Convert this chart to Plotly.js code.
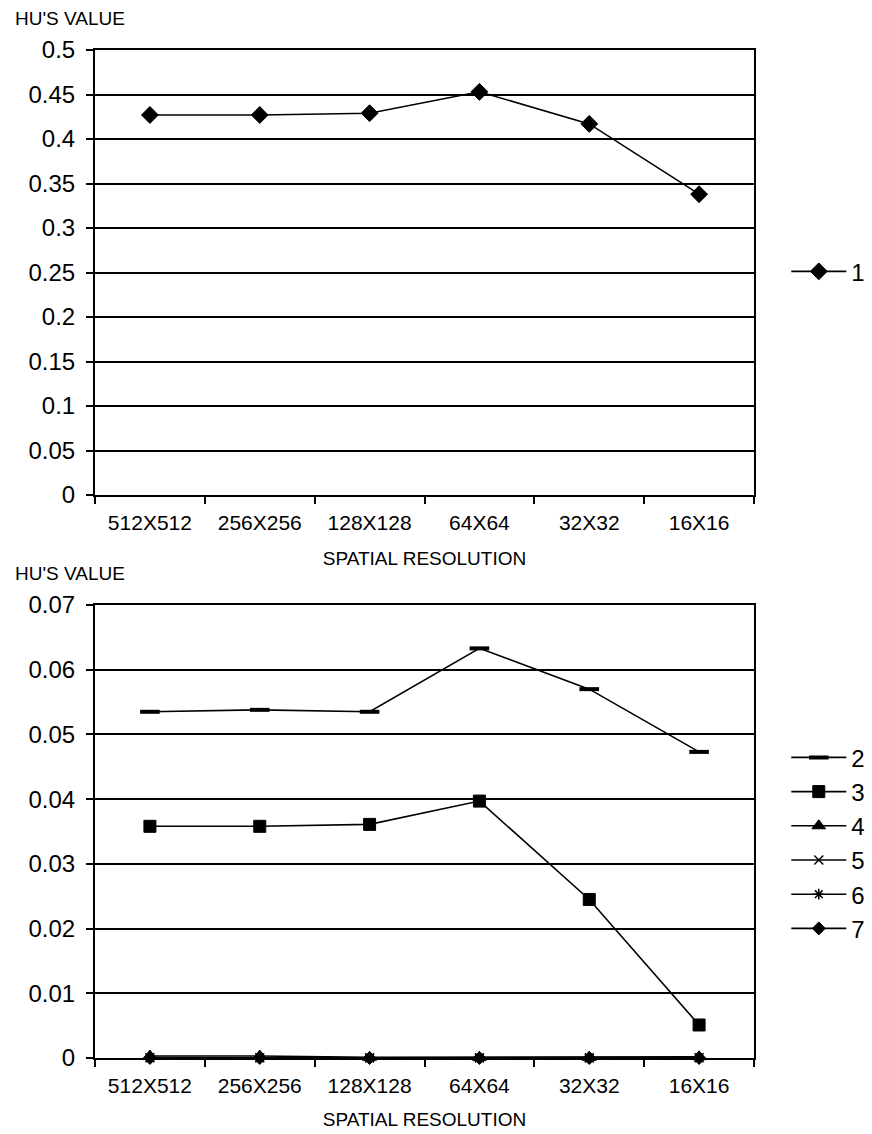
<!DOCTYPE html>
<html>
<head>
<meta charset="utf-8">
<script src="https://cdn.plot.ly/plotly-3.0.1.min.js"></script>
<style>html,body{margin:0;padding:0;background:#fff;}#chart{width:872px;height:1134px;}</style>
</head>
<body>
<div id="chart"></div>
<script>
const categories = ["512X512", "256X256", "128X128", "64X64", "32X32", "16X16"];
const series1 = [0.427, 0.427, 0.429, 0.453, 0.417, 0.338];
const series2 = [0.0535, 0.0538, 0.0535, 0.0633, 0.0570, 0.0473];
const series3 = [0.0358, 0.0358, 0.0361, 0.0397, 0.0245, 0.0051];
const series4 = [0.0003, 0.0003, 0.0001, 0.0001, 0.0001, 0.0002];
const series5 = [0.00005, 0.00005, 0.00002, 0.00002, 0.00002, 0.00003];
const series6 = [0.00002, 0.00002, 0.00001, 0.00001, 0.00001, 0.00001];
const series7 = [0.00001, 0.00001, 0.0, 0.0, 0.0, 0.0];
const yTicksTop = [0, 0.05, 0.1, 0.15, 0.2, 0.25, 0.3, 0.35, 0.4, 0.45, 0.5];
const yTicksBottom = [0, 0.01, 0.02, 0.03, 0.04, 0.05, 0.06, 0.07];

const FONT = "Liberation Sans, Arial, sans-serif";
const lineStyle = {color: "#000", width: 1.6};

function tr(name, y, symbol, size, xa, ya, legend, rank, lw) {
  return {
    type: "scatter", mode: "lines+markers", name: name,
    x: categories, y: y, xaxis: xa, yaxis: ya, legend: legend, legendrank: rank,
    line: lineStyle, cliponaxis: false,
    marker: {symbol: symbol, size: size, color: "#000", line: {color: "#000", width: lw || 1}}
  };
}

const data = [
  tr("1", series1, "diamond", 13, "x", "y", "legend", 1),
  tr("7", series7, "diamond", 10, "x2", "y2", "legend2", 7),
  tr("6", series6, "asterisk-open", 9, "x2", "y2", "legend2", 6, 1.5),
  tr("5", series5, "x-thin-open", 9, "x2", "y2", "legend2", 5, 1.5),
  tr("2", series2, "line-ew-open", 14, "x2", "y2", "legend2", 2, 4),
  tr("3", series3, "square", 12, "x2", "y2", "legend2", 3),
  tr("4", series4, "triangle-up", 12, "x2", "y2", "legend2", 4)
];

const titleFont = {family: FONT, size: 19, color: "#000"};
const xBase = {
  type: "category", showline: true, linecolor: "#000", linewidth: 2, mirror: true,
  ticks: "outside", tickson: "boundaries", ticklen: 7, tickwidth: 2, tickcolor: "#000",
  showgrid: false, tickfont: {family: FONT, size: 21, color: "#000"}, ticklabelstandoff: 8,
  range: [-0.5, 5.5], fixedrange: true
};
const yBase = {
  showline: true, linecolor: "#000", linewidth: 2, mirror: true,
  ticks: "outside", ticklen: 7, tickwidth: 2, tickcolor: "#000",
  showgrid: true, gridcolor: "#000", gridwidth: 2, zeroline: false,
  tickfont: {family: FONT, size: 24, color: "#000"}, ticklabelstandoff: 6
};

const legendBase = {xanchor: "left", yanchor: "middle", bgcolor: "rgba(0,0,0,0)",
  font: {family: FONT, size: 24, color: "#000"}, traceorder: "normal", itemwidth: 55};

const layout = {
  width: 872, height: 1134,
  margin: {l: 95, r: 118, t: 50, b: 76, autoexpand: false},
  paper_bgcolor: "#fff", plot_bgcolor: "#fff",
  font: {family: FONT, color: "#000"},
  xaxis: Object.assign({}, xBase, {anchor: "y", domain: [0, 1],
    title: {text: "SPATIAL RESOLUTION", font: titleFont, standoff: 18}}),
  yaxis: Object.assign({}, yBase, {anchor: "x", domain: [0.5585, 1], range: [0, 0.5], tickvals: yTicksTop}),
  xaxis2: Object.assign({}, xBase, {anchor: "y2", domain: [0, 1],
    title: {text: "SPATIAL RESOLUTION", font: titleFont, standoff: 16}}),
  yaxis2: Object.assign({}, yBase, {anchor: "x2", domain: [0, 0.4494], range: [0, 0.07], tickvals: yTicksBottom}),
  legend: Object.assign({}, legendBase, {x: 1.049, y: 0.78}),
  legend2: Object.assign({}, legendBase, {x: 1.049, y: 0.213}),
  annotations: [
    {text: "HU'S VALUE", xref: "paper", yref: "paper", x: -0.1244, y: 1.0308, xanchor: "left", yanchor: "middle",
      showarrow: false, font: titleFont},
    {text: "HU'S VALUE", xref: "paper", yref: "paper", x: -0.1244, y: 0.481, xanchor: "left", yanchor: "middle",
      showarrow: false, font: titleFont}
  ],
  showlegend: true
};

Plotly.newPlot("chart", data, layout, {displayModeBar: false, staticPlot: true});
</script>
</body>
</html>
